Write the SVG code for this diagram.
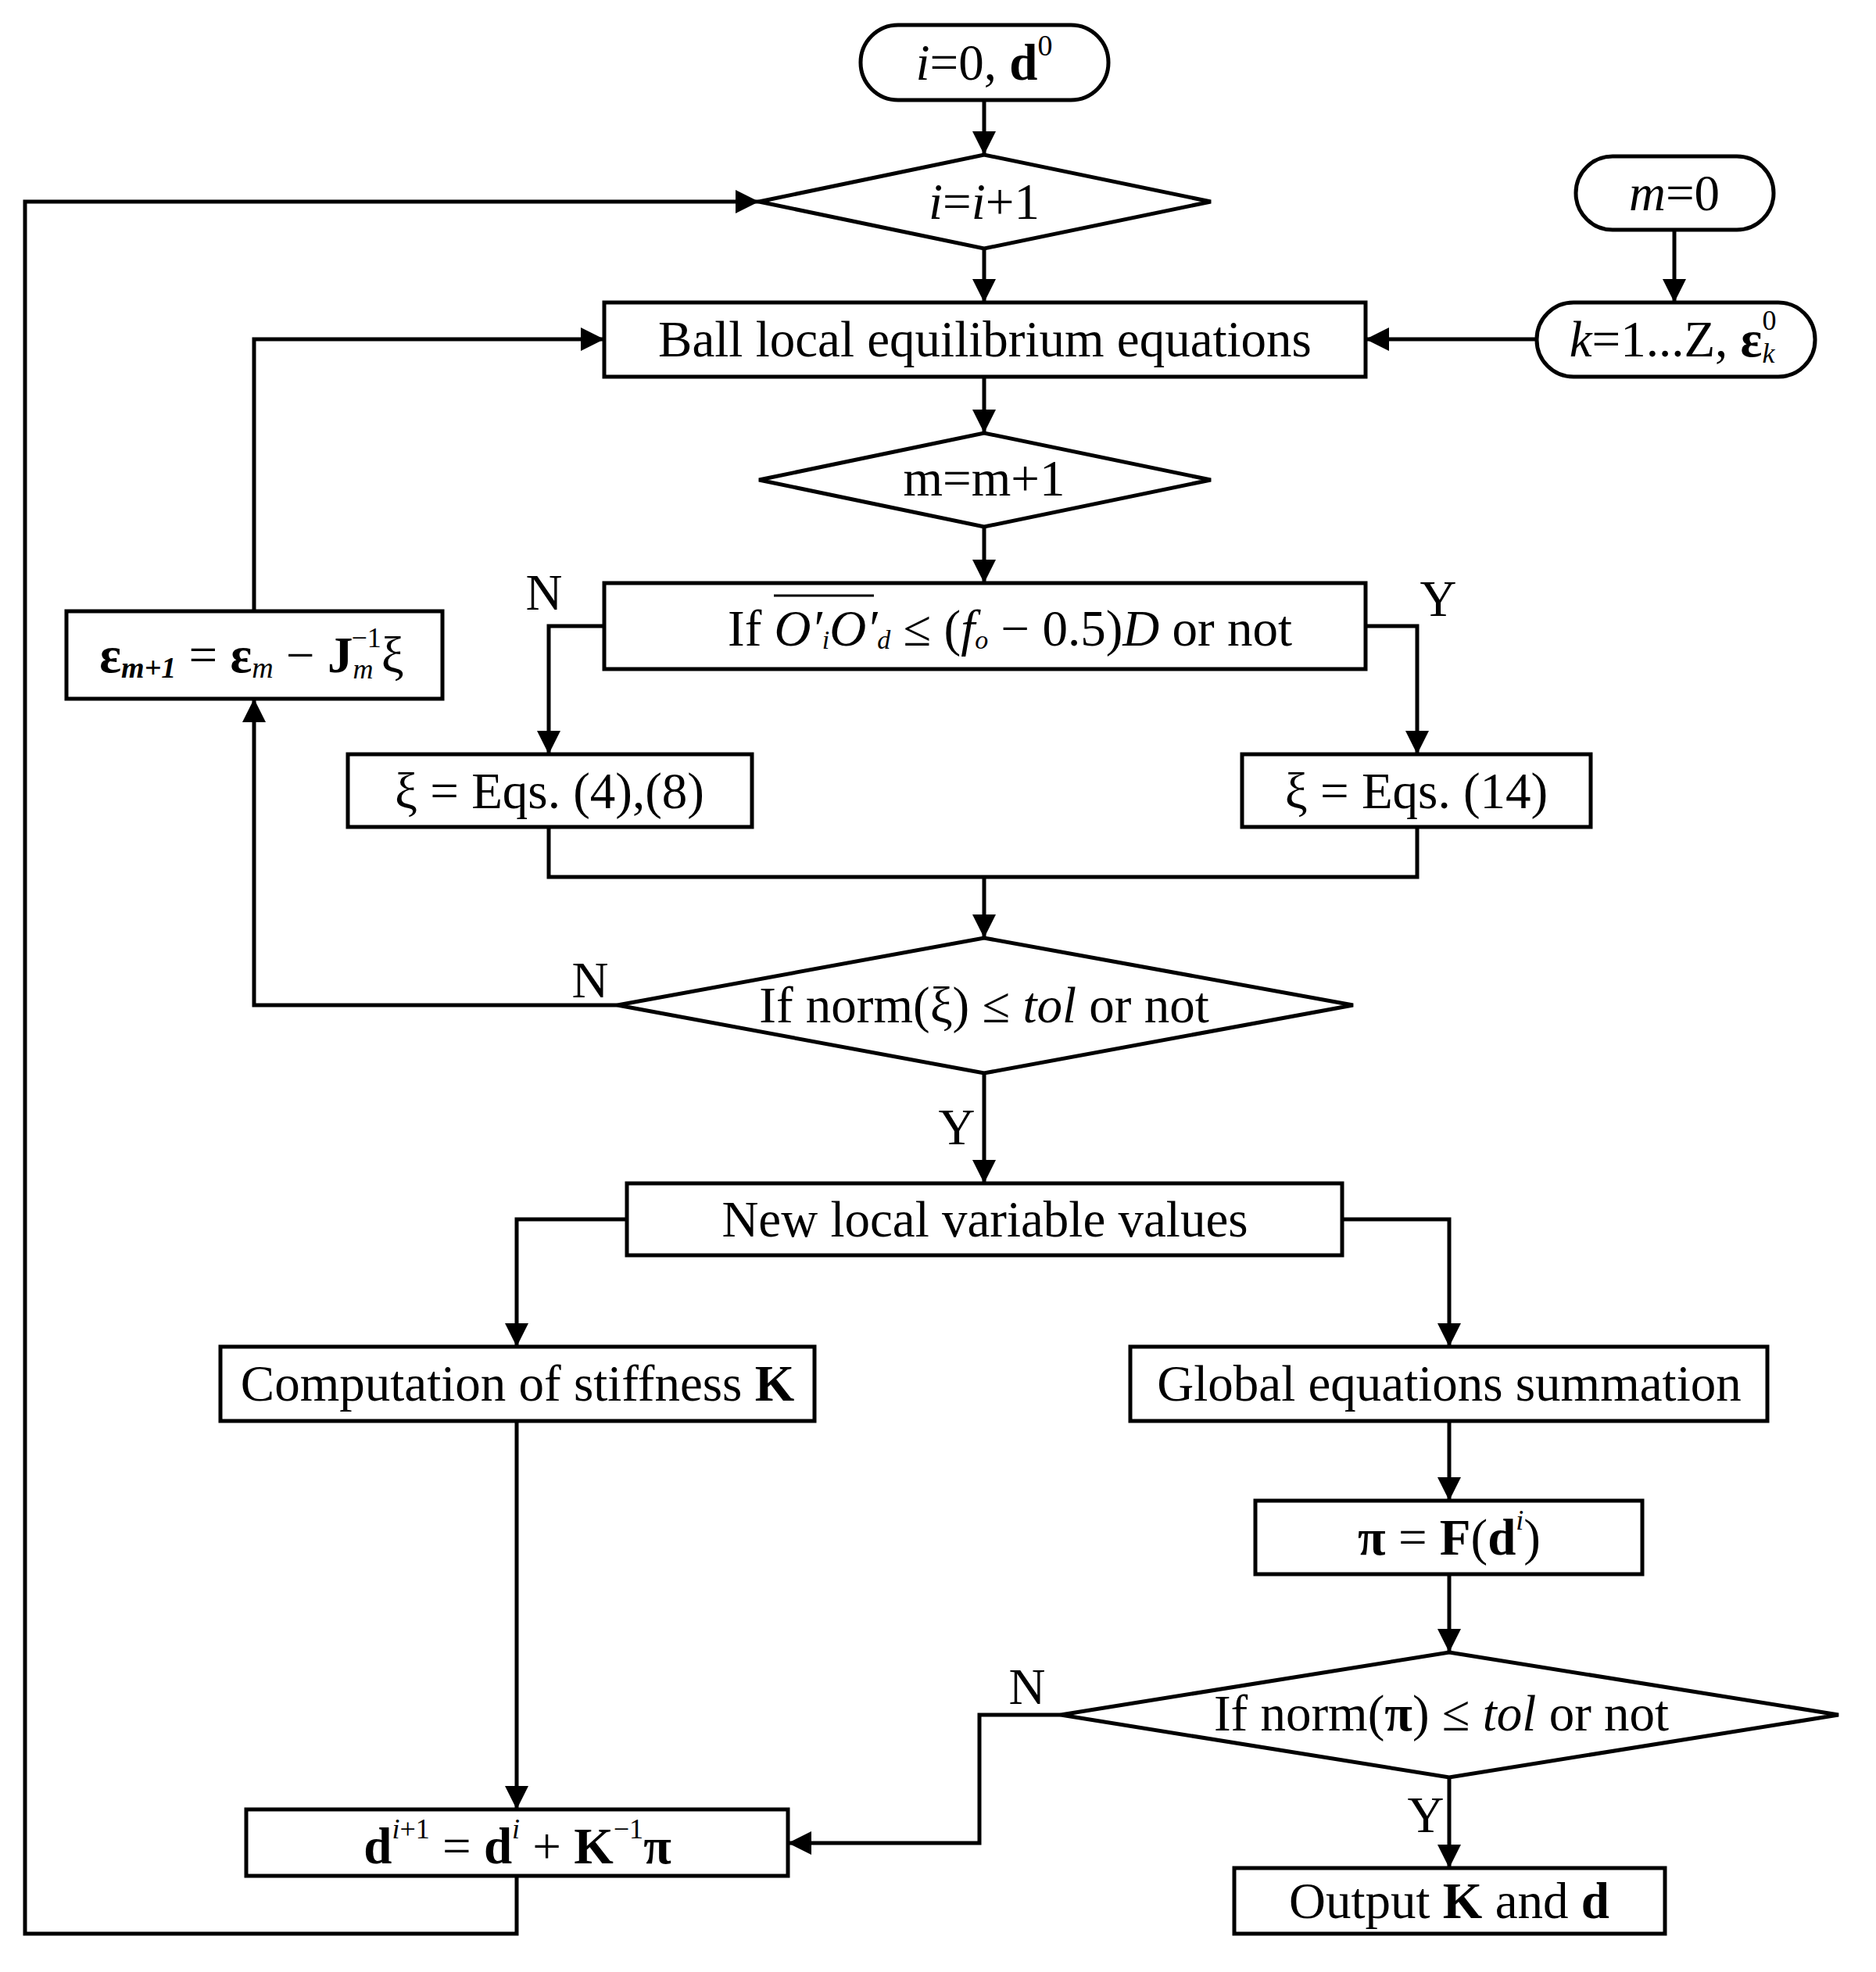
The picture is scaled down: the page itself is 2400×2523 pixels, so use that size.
<svg xmlns="http://www.w3.org/2000/svg" width="2400" height="2523" viewBox="0 0 2400 2523">
<style>
.s{fill:#fff;stroke:#000;stroke-width:5}
.c{fill:none;stroke:#000;stroke-width:5}
text{font-family:"Liberation Serif","Times New Roman",serif;font-size:65px;fill:#000;text-anchor:middle;dominant-baseline:central}
.i{font-style:italic}
.b{font-weight:bold}
</style>
<defs>
<marker id="A" viewBox="0 0 10 10" refX="10" refY="5" markerWidth="36" markerHeight="30" orient="auto" markerUnits="userSpaceOnUse"><path d="M0,0L10,5L0,10z"/></marker></defs>
<rect width="2400" height="2523" fill="#fff"/>
<g id="connectors" class="c">
<path d="M1259,128V198" marker-end="url(#A)"/>
<path d="M1259,318V387" marker-end="url(#A)"/>
<path d="M2142,294V387" marker-end="url(#A)"/>
<path d="M1966,434H1747" marker-end="url(#A)"/>
<path d="M1259,482V554" marker-end="url(#A)"/>
<path d="M1259,674V746" marker-end="url(#A)"/>
<path d="M773,801H702V965" marker-end="url(#A)"/>
<path d="M1747,801H1813V965" marker-end="url(#A)"/>
<path d="M702,1058V1122H1813V1058"/>
<path d="M1259,1122V1200" marker-end="url(#A)"/>
<path d="M790,1286H325V894" marker-end="url(#A)"/>
<path d="M325,782V434H773" marker-end="url(#A)"/>
<path d="M1259,1373V1514" marker-end="url(#A)"/>
<path d="M802,1560H661V1723" marker-end="url(#A)"/>
<path d="M1717,1560H1854V1723" marker-end="url(#A)"/>
<path d="M661,1818V2315" marker-end="url(#A)"/>
<path d="M1854,1818V1920" marker-end="url(#A)"/>
<path d="M1854,2014V2114" marker-end="url(#A)"/>
<path d="M1357,2194H1253V2358H1008" marker-end="url(#A)"/>
<path d="M1854,2274V2390" marker-end="url(#A)"/>
<path d="M661,2400V2474H32V258H971" marker-end="url(#A)"/>
</g>
<g id="labels">
<text x="696" y="758">N</text><text x="1840" y="766">Y</text>
<text x="755" y="1254">N</text><text x="1224" y="1442">Y</text>
<text x="1314" y="2158">N</text><text x="1824" y="2322">Y</text>
</g>
<g id="start"><rect class="s" x="1101" y="32" width="317" height="96" rx="48"/><text x="1259" y="80"><tspan class="i">i</tspan>=0, <tspan class="b">d</tspan><tspan font-size="38" dy="-22">0</tspan></text></g>
<g id="iinc"><path class="s" d="M971,258L1259,198L1549,258L1259,318Z"/><text x="1259" y="258"><tspan class="i">i</tspan>=<tspan class="i">i</tspan>+1</text></g>
<g id="m0"><rect class="s" x="2016" y="200" width="253" height="94" rx="47"/><text x="2142" y="247"><tspan class="i">m</tspan>=0</text></g>
<g id="kterm"><rect class="s" x="1966" y="387" width="356" height="95" rx="47"/><text x="2140" y="434"><tspan class="i">k</tspan>=1...Z, <tspan class="b">ε</tspan><tspan font-size="36" class="i" dy="18">k</tspan><tspan font-size="36" dx="-16" dy="-42">0</tspan></text></g>
<g id="ball"><rect class="s" x="773" y="387" width="974" height="95"/><text x="1260" y="434">Ball local equilibrium equations</text></g>
<g id="minc"><path class="s" d="M971,614L1259,554L1549,614L1259,674Z"/><text x="1259" y="612">m=m+1</text></g>
<g id="ifbox"><rect class="s" x="773" y="746" width="974" height="110"/><text x="1292" y="804">If  <tspan class="i">O′</tspan><tspan font-size="34" class="i" dy="14">i</tspan><tspan class="i" dy="-14">O′</tspan><tspan font-size="34" class="i" dy="14">d</tspan><tspan dy="-14"> ≤ (</tspan><tspan class="i">f</tspan><tspan font-size="34" class="i" dy="14">o</tspan><tspan dy="-14"> − 0.5)</tspan><tspan class="i">D</tspan> or not</text><path d="M990,762H1118" stroke="#000" stroke-width="3"/></g>
<g id="eps"><rect class="s" x="85" y="782" width="481" height="112"/><text x="322" y="838"><tspan class="b">ε</tspan><tspan font-size="38" class="b i" dy="16">m+1</tspan><tspan dy="-16"> = </tspan><tspan class="b">ε</tspan><tspan font-size="38" class="i" dy="16">m</tspan><tspan dy="-16"> − </tspan><tspan class="b">J</tspan><tspan font-size="36" class="i" dy="18">m</tspan><tspan font-size="36" dx="-28" dy="-40">−1</tspan><tspan dy="22">ξ</tspan></text></g>
<g id="xiL"><rect class="s" x="445" y="965" width="517" height="93"/><text x="703" y="1012">ξ = Eqs. (4),(8)</text></g>
<g id="xiR"><rect class="s" x="1589" y="965" width="446" height="93"/><text x="1812" y="1012">ξ = Eqs. (14)</text></g>
<g id="normxi"><path class="s" d="M790,1286L1259,1200L1731,1286L1259,1373Z"/><text x="1259" y="1286">If norm(ξ) ≤ <tspan class="i">tol</tspan> or not</text></g>
<g id="newlocal"><rect class="s" x="802" y="1514" width="915" height="92"/><text x="1260" y="1560">New local variable values</text></g>
<g id="comp"><rect class="s" x="282" y="1723" width="760" height="95"/><text x="662" y="1770">Computation of stiffness <tspan class="b">K</tspan></text></g>
<g id="global"><rect class="s" x="1446" y="1723" width="815" height="95"/><text x="1854" y="1770">Global equations summation</text></g>
<g id="pi"><rect class="s" x="1606" y="1920" width="495" height="94"/><text x="1854" y="1967"><tspan class="b">π</tspan> = <tspan class="b">F</tspan>(<tspan class="b">d</tspan><tspan font-size="36" class="i" dy="-22">i</tspan><tspan dy="22">)</tspan></text></g>
<g id="normpi"><path class="s" d="M1357,2194L1854,2114L2352,2194L1854,2274Z"/><text x="1844" y="2192">If norm(<tspan class="b">π</tspan>) ≤ <tspan class="i">tol</tspan> or not</text></g>
<g id="dupd"><rect class="s" x="315" y="2315" width="693" height="85"/><text x="662" y="2362"><tspan class="b">d</tspan><tspan font-size="36" dy="-22"><tspan class="i">i</tspan>+1</tspan><tspan dy="22"> = </tspan><tspan class="b">d</tspan><tspan font-size="36" class="i" dy="-22">i</tspan><tspan dy="22"> + </tspan><tspan class="b">K</tspan><tspan font-size="36" dy="-22">−1</tspan><tspan class="b" dy="22">π</tspan></text></g>
<g id="output"><rect class="s" x="1579" y="2390" width="551" height="84"/><text x="1854" y="2432">Output <tspan class="b">K</tspan> and <tspan class="b">d</tspan></text></g>
</svg>
